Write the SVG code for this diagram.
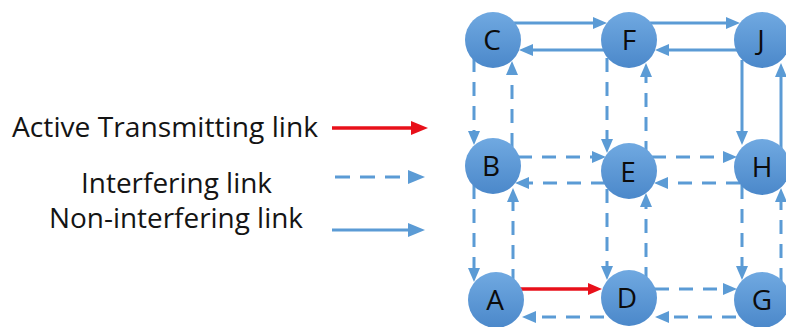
<svg xmlns="http://www.w3.org/2000/svg" width="786" height="327" viewBox="0 0 786 327">
  <style>
    .lbl { font-family: "Open Sans", "Liberation Sans", sans-serif; font-size: 28px; fill: #141414; }
    .node-txt { font-family: "Open Sans", "Liberation Sans", sans-serif; font-size: 28px; fill: #0c0c0c; text-anchor: middle; }
    .node circle { fill: url(#nodeFill); }
    .solid { stroke: #5b9bd5; stroke-width: 3; fill: none; marker-end: url(#arrBlue); }
    .dash { stroke: #5b9bd5; stroke-width: 3; fill: none; stroke-dasharray: 14 10; marker-end: url(#arrBlue); }
    .active { stroke: #e8101a; stroke-width: 3.5; fill: none; marker-end: url(#arrRed); }
    .lg-solid { stroke: #5b9bd5; stroke-width: 3; fill: none; marker-end: url(#lgBlue); }
    .lg-dash { stroke: #5b9bd5; stroke-width: 3; fill: none; stroke-dasharray: 15 10; marker-end: url(#lgBlue); }
    .lg-active { stroke: #e8101a; stroke-width: 3.5; fill: none; marker-end: url(#lgRed); }
  </style>
  <defs>
    <linearGradient id="nodeFill" x1="0" y1="0" x2="0" y2="1">
      <stop offset="0" stop-color="#70a9e1"/>
      <stop offset="1" stop-color="#4b88ca"/>
    </linearGradient>
    <marker id="arrBlue" markerUnits="userSpaceOnUse" markerWidth="16" markerHeight="12" refX="6" refY="6" orient="auto">
      <path d="M0,0 L14,6 L0,12 z" fill="#5b9bd5"/>
    </marker>
    <marker id="arrRed" markerUnits="userSpaceOnUse" markerWidth="16" markerHeight="12" refX="6" refY="6" orient="auto">
      <path d="M0,0 L14,6 L0,12 z" fill="#e8101a"/>
    </marker>
    <marker id="lgBlue" markerUnits="userSpaceOnUse" markerWidth="18" markerHeight="14" refX="7" refY="7" orient="auto">
      <path d="M0,0 L17,7 L0,14 z" fill="#5b9bd5"/>
    </marker>
    <marker id="lgRed" markerUnits="userSpaceOnUse" markerWidth="18" markerHeight="14" refX="7" refY="7" orient="auto">
      <path d="M0,0 L17,7 L0,14 z" fill="#e8101a"/>
    </marker>
  </defs>

  <!-- legend -->
  <g id="legend">
    <text class="lbl" x="12" y="137" textLength="306" lengthAdjust="spacingAndGlyphs">Active Transmitting link</text>
    <path class="lg-active" d="M332,128 H418"/>
    <text class="lbl" x="81" y="193" textLength="191" lengthAdjust="spacingAndGlyphs">Interfering link</text>
    <path class="lg-dash" d="M335,177 H415"/>
    <text class="lbl" x="49" y="228" textLength="254" lengthAdjust="spacingAndGlyphs">Non-interfering link</text>
    <path class="lg-solid" d="M332,230 H415"/>
  </g>

  <!-- links between nodes; each path ends 8px short of its arrow tip -->
  <g id="connectors">
    <!-- top row -->
    <path class="solid" d="M514,23 H599"/>
    <path class="solid" d="M604,50 H527"/>
    <path class="solid" d="M650,23 H732"/>
    <path class="solid" d="M737,50 H663"/>
    <!-- middle row -->
    <path class="dash" d="M518,157 H598"/>
    <path class="dash" d="M605,183 H523"/>
    <path class="dash" d="M652,157 H729"/>
    <path class="dash" d="M740,183 H662"/>
    <!-- bottom row -->
    <path class="active" d="M520,289 H594"/>
    <path class="dash" d="M604,317 H530"/>
    <path class="dash" d="M655,289 H729"/>
    <path class="dash" d="M736,317 H663"/>
    <!-- left column -->
    <path class="dash" d="M474,58 V137"/>
    <path class="dash" d="M512,147 V69"/>
    <path class="dash" d="M474,185 V274"/>
    <path class="dash" d="M513,283 V196"/>
    <!-- middle column -->
    <path class="dash" d="M607,58 V145"/>
    <path class="dash" d="M646,155 V71"/>
    <path class="dash" d="M607,189 V272"/>
    <path class="dash" d="M646,281 V201"/>
    <!-- right column -->
    <path class="solid" d="M742,60 V137"/>
    <path class="solid" d="M781,149 V71"/>
    <path class="dash" d="M742,185 V272"/>
    <path class="dash" d="M781,282 V196"/>
  </g>

  <!-- nodes -->
  <g id="node-C" class="node"><circle cx="493" cy="40" r="28"/><text class="node-txt" x="492" y="50">C</text></g>
  <g id="node-F" class="node"><circle cx="629" cy="40" r="28"/><text class="node-txt" x="629" y="50">F</text></g>
  <g id="node-J" class="node"><circle cx="762" cy="40" r="28"/><text class="node-txt" x="761" y="50">J</text></g>
  <g id="node-B" class="node"><circle cx="493" cy="166" r="28"/><text class="node-txt" x="491" y="176">B</text></g>
  <g id="node-E" class="node"><circle cx="629" cy="171" r="28"/><text class="node-txt" x="628" y="182">E</text></g>
  <g id="node-H" class="node"><circle cx="762" cy="167" r="28"/><text class="node-txt" x="762" y="177">H</text></g>
  <g id="node-A" class="node"><circle cx="496" cy="300" r="28"/><text class="node-txt" x="495" y="310">A</text></g>
  <g id="node-D" class="node"><circle cx="629" cy="298" r="28"/><text class="node-txt" x="627" y="308">D</text></g>
  <g id="node-G" class="node"><circle cx="762" cy="300" r="28"/><text class="node-txt" x="762" y="310">G</text></g>
</svg>
